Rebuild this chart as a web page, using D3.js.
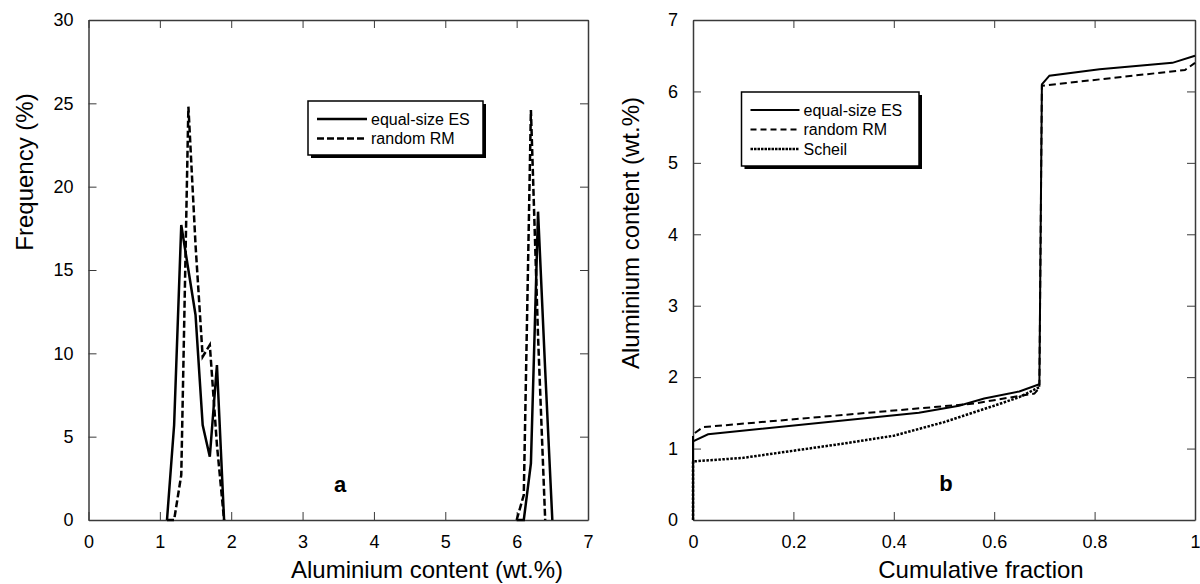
<!DOCTYPE html>
<html>
<head>
<meta charset="utf-8">
<script src="https://cdn.jsdelivr.net/npm/d3@7"></script>
<style>
  body { margin: 0; background: white; }
  svg { display: block; font-family: 'Liberation Sans', Arial, sans-serif; }
</style>
</head>
<body>
<script>
// panel a: frequency distributions (two clusters each, drawn as separate pieces)
const esLowX = [1.1, 1.2, 1.3, 1.4, 1.5, 1.6, 1.7, 1.8, 1.9]
const esLowY = [0, 5.7, 17.7, 15.0, 12.3, 5.7, 3.8, 9.3, 0]
const esHighX = [6.0, 6.1, 6.2, 6.3, 6.4, 6.5]
const esHighY = [0, 0, 3.4, 18.5, 9.0, 0]
const rmLowX = [1.1, 1.2, 1.3, 1.4, 1.5, 1.6, 1.7, 1.8, 1.9]
const rmLowY = [0, 0, 2.7, 24.8, 16.5, 9.8, 10.5, 4.5, 0]
const rmHighX = [6.0, 6.1, 6.2, 6.3, 6.4]
const rmHighY = [0, 1.5, 24.6, 11, 0]

// panel b: cumulative profiles
const cumEsX = [0, 0, 0.03, 0.45, 0.53, 0.58, 0.65, 0.69, 0.695, 0.71, 0.81, 0.955, 1.0]
const cumEsY = [0, 1.1, 1.2, 1.5, 1.6, 1.7, 1.8, 1.9, 6.1, 6.22, 6.31, 6.4, 6.5]
const cumRmX = [0, 0, 0.02, 0.56, 0.61, 0.68, 0.69, 0.695, 0.98, 1.0]
const cumRmY = [0, 1.2, 1.3, 1.63, 1.69, 1.77, 1.85, 6.08, 6.3, 6.4]
const scheilX = [0, 0, 0.1, 0.2, 0.3, 0.4, 0.5, 0.6, 0.65, 0.69]
const scheilY = [0, 0.82, 0.87, 0.97, 1.07, 1.18, 1.37, 1.6, 1.72, 1.86]

const ticksA_x = [0, 1, 2, 3, 4, 5, 6, 7]
const ticksA_y = [0, 5, 10, 15, 20, 25, 30]
const ticksB_x = [0, 0.2, 0.4, 0.6, 0.8, 1]
const ticksB_y = [0, 1, 2, 3, 4, 5, 6, 7]

const width = 1200
const height = 584
const plotTop = 20
const plotBottom = 520
const tickLen = 8
const axisColor = '#3a3a3a'

const svg = d3.select('body')
  .append('svg')
  .attr('width', width)
  .attr('height', height)

const zip = (xs, ys) => xs.map((x, i) => [x, ys[i]])

function frame(x, y, xTicks, yTicks, fmtX) {
  const x0 = x.range()[0], x1 = x.range()[1]
  const g = svg.append('g')

  const axes = [
    [d3.axisBottom(x).tickValues(xTicks).tickFormat(fmtX), `translate(0,${plotBottom})`, true],
    [d3.axisTop(x).tickValues(xTicks).tickFormat(''), `translate(0,${plotTop})`, false],
    [d3.axisLeft(y).tickValues(yTicks).tickFormat(d3.format('d')), `translate(${x0},0)`, true],
    [d3.axisRight(y).tickValues(yTicks).tickFormat(''), `translate(${x1},0)`, false],
  ]
  axes.forEach(([ax, tr, labels]) => {
    const a = g.append('g')
      .attr('transform', tr)
      .call(ax.tickSizeInner(-tickLen).tickSizeOuter(0).tickPadding(labels ? 15 : 0))
    a.select('.domain').attr('stroke', axisColor).attr('stroke-width', 1.5)
    a.selectAll('.tick line').attr('stroke', axisColor).attr('stroke-width', 1)
    a.selectAll('.tick text')
      .attr('fill', 'black')
      .style('font-size', '18px')
      .style('font-family', 'Liberation Sans, Arial, sans-serif')
  })
  return g
}

function drawLine(x, y, pts, dash, sw) {
  svg.append('path')
    .datum(pts)
    .attr('fill', 'none')
    .attr('stroke', 'black')
    .attr('stroke-width', sw)
    .attr('stroke-dasharray', dash)
    .attr('stroke-linejoin', 'miter')
    .attr('d', d3.line().x(d => x(d[0])).y(d => y(d[1])))
}

function legend(x, y, w, h, rows, lineLen) {
  const g = svg.append('g')
  g.append('rect')
    .attr('x', x + 3).attr('y', y + 3)
    .attr('width', w).attr('height', h)
    .attr('fill', 'black')
  g.append('rect')
    .attr('x', x).attr('y', y)
    .attr('width', w).attr('height', h)
    .attr('fill', 'white')
    .attr('stroke', 'black')
    .attr('stroke-width', 1.5)
  rows.forEach((r, i) => {
    const ry = y + 18 + i * 19.5
    g.append('line')
      .attr('x1', x + 9).attr('x2', x + 9 + lineLen)
      .attr('y1', ry).attr('y2', ry)
      .attr('stroke', 'black')
      .attr('stroke-width', r.sw)
      .attr('stroke-dasharray', r.dash)
    g.append('text')
      .attr('x', x + 13 + lineLen)
      .attr('y', ry + 5.5)
      .style('font-size', '16px')
      .text(r.label)
  })
}

// ---- panel a
const xA = d3.scaleLinear().domain([0, 7]).range([88.5, 588])
const yA = d3.scaleLinear().domain([0, 30]).range([plotBottom, plotTop])
frame(xA, yA, ticksA_x, ticksA_y, d3.format('d'))

drawLine(xA, yA, zip(rmLowX, rmLowY), '7,3', 2.5)
drawLine(xA, yA, zip(rmHighX, rmHighY), '7,3', 2.5)
drawLine(xA, yA, zip(esLowX, esLowY), null, 2.5)
drawLine(xA, yA, zip(esHighX, esHighY), null, 2.5)

legend(308, 101, 175, 54, [
  { label: 'equal-size ES', dash: null, sw: 2.5 },
  { label: 'random RM', dash: '7,3', sw: 2.5 },
], 50)

svg.append('text')
  .attr('x', 340).attr('y', 492)
  .attr('text-anchor', 'middle')
  .style('font-size', '22px').style('font-weight', 'bold')
  .text('a')

svg.append('text')
  .attr('transform', 'translate(33,172)rotate(-90)')
  .attr('text-anchor', 'middle')
  .style('font-size', '24px')
  .text('Frequency (%)')

svg.append('text')
  .attr('x', 427).attr('y', 578)
  .attr('text-anchor', 'middle')
  .style('font-size', '24px')
  .text('Aluminium content (wt.%)')

// ---- panel b
const xB = d3.scaleLinear().domain([0, 1]).range([693, 1195])
const yB = d3.scaleLinear().domain([0, 7]).range([plotBottom, plotTop])
frame(xB, yB, ticksB_x, ticksB_y, d => d === 0 || d === 1 ? d3.format('d')(d) : d3.format('.1f')(d))

drawLine(xB, yB, zip(scheilX, scheilY), '2.5,1.5', 2.5)
drawLine(xB, yB, zip(cumRmX, cumRmY), '7,4', 2)
drawLine(xB, yB, zip(cumEsX, cumEsY), null, 2)

legend(741.5, 92, 177.5, 74, [
  { label: 'equal-size ES', dash: null, sw: 1.8 },
  { label: 'random RM', dash: '6,4', sw: 1.8 },
  { label: 'Scheil', dash: '2.5,1', sw: 2.5 },
], 49)

svg.append('text')
  .attr('x', 946).attr('y', 491)
  .attr('text-anchor', 'middle')
  .style('font-size', '22px').style('font-weight', 'bold')
  .text('b')

svg.append('text')
  .attr('transform', 'translate(639,233)rotate(-90)')
  .attr('text-anchor', 'middle')
  .style('font-size', '24px')
  .text('Aluminium content (wt.%)')

svg.append('text')
  .attr('x', 981).attr('y', 578)
  .attr('text-anchor', 'middle')
  .style('font-size', '24px')
  .text('Cumulative fraction')
</script>
</body>
</html>
